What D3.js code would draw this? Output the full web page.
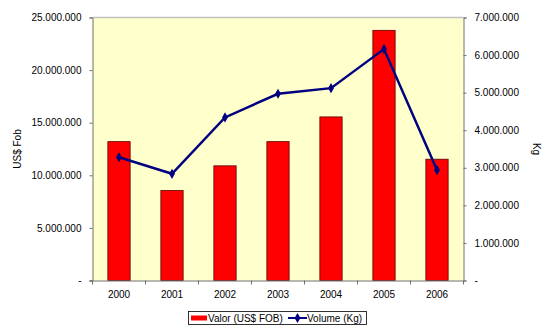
<!DOCTYPE html>
<html><head><meta charset="utf-8">
<script src="https://cdn.jsdelivr.net/npm/d3@7"></script>
<style>body{margin:0;background:#fff}svg{display:block;font-family:"Liberation Sans",Arial,sans-serif}</style>
</head><body><svg id="c" width="550" height="330"></svg>
<script>
const years = ["2000","2001","2002","2003","2004","2005","2006"];
const valor = [13200000, 8550000, 10900000, 13200000, 15550000, 23780000, 11530000];
const volume = [3280000, 2840000, 4340000, 4970000, 5120000, 6160000, 2940000];
const leftTicks = [0, 5000000, 10000000, 15000000, 20000000, 25000000];
const rightTicks = [0, 1000000, 2000000, 3000000, 4000000, 5000000, 6000000, 7000000];
const seriesNames = ["Valor (US$ FOB)", "Volume (Kg)"];
const axisTitles = ["US$ Fob", "Kg"];

const svg = d3.select("#c");
const L = 92.5, R = 463.5, T = 17.5, B = 280.5;
const fmtL = d3.formatLocale({decimal: ",", thousands: ".", grouping: [3], currency: ["", ""]});
const f = v => v === 0 ? "-" : fmtL.format(",")(v);

const x = d3.scaleBand().domain(years).range([L, R]).paddingInner(0.58).paddingOuter(0.29);
const xb = d3.scaleBand().domain(years).range([L, R]);
const yL = d3.scaleLinear().domain([0, 25000000]).range([B, T]);
const yR = d3.scaleLinear().domain([0, 7000000]).range([B, T]);

svg.append("rect").attr("x", L).attr("y", T).attr("width", R - L).attr("height", B - T).attr("fill", "#FFFFCC");
svg.append("line").attr("x1", L).attr("x2", R).attr("y1", T).attr("y2", T).attr("stroke", "#c0c0c0").attr("stroke-width", 1.5);

svg.append("g").selectAll("rect").data(years).join("rect")
  .attr("x", d => x(d)).attr("width", x.bandwidth())
  .attr("y", (d, i) => yL(valor[i])).attr("height", (d, i) => B - yL(valor[i]))
  .attr("fill", "#FF0000").attr("stroke", "#5a0000").attr("stroke-width", 0.8);

const axisStyle = g => {
  g.select(".domain").attr("stroke", "#707070");
  g.selectAll(".tick line").attr("stroke", "#707070");
  g.selectAll(".tick text").attr("font-size", 10).attr("fill", "#000").attr("font-family", "Liberation Sans, Arial, sans-serif");
};

svg.append("g").attr("transform", `translate(${L},0)`)
  .call(d3.axisLeft(yL).tickValues(leftTicks).tickFormat(f).tickSizeOuter(0).tickSize(3).tickPadding(8))
  .call(axisStyle);
svg.append("g").attr("transform", `translate(${R},0)`)
  .call(d3.axisRight(yR).tickValues(rightTicks).tickFormat(f).tickSizeOuter(0).tickSize(3).tickPadding(8))
  .call(axisStyle);

const xAxis = svg.append("g").attr("transform", `translate(0,${B})`)
  .call(d3.axisBottom(xb).tickSize(0).tickPadding(10))
  .call(axisStyle);
xAxis.select(".domain").attr("d", `M${L - 3},0.5H${R}`);
// category boundary ticks
svg.append("g").selectAll("line").data(years.concat(["end"])).join("line")
  .attr("x1", (d, i) => L + i * xb.step()).attr("x2", (d, i) => L + i * xb.step())
  .attr("y1", B).attr("y2", B + 4).attr("stroke", "#707070");

const line = d3.line().x((d, i) => xb(years[i]) + xb.bandwidth() / 2).y(d => yR(d));
svg.append("path").datum(volume).attr("d", line).attr("fill", "none")
  .attr("stroke", "#000080").attr("stroke-width", 2.5);
const diamond = d3.symbol().type(d3.symbolDiamond).size(30);
svg.append("g").selectAll("path").data(volume).join("path")
  .attr("d", diamond)
  .attr("transform", (d, i) => `translate(${xb(years[i]) + xb.bandwidth() / 2},${yR(d)})`)
  .attr("fill", "#000080");

svg.append("text").attr("transform", `translate(21,${(T + B) / 2}) rotate(-90)`)
  .attr("text-anchor", "middle").attr("font-size", 10).text(axisTitles[0]);
svg.append("text").attr("transform", `translate(533,${(T + B) / 2}) rotate(90)`)
  .attr("text-anchor", "middle").attr("font-size", 10).text(axisTitles[1]);

// legend
const lg = svg.append("g");
lg.append("rect").attr("x", 188.5).attr("y", 311.5).attr("width", 178).attr("height", 13)
  .attr("fill", "#fff").attr("stroke", "#000").attr("stroke-width", 0.8);
lg.append("rect").attr("x", 191).attr("y", 315.5).attr("width", 16).attr("height", 5).attr("fill", "#FF0000");
lg.append("text").attr("x", 208).attr("y", 321.5).attr("font-size", 10).text(seriesNames[0]);
lg.append("line").attr("x1", 288).attr("x2", 307).attr("y1", 318).attr("y2", 318).attr("stroke", "#000080").attr("stroke-width", 2);
lg.append("path").attr("d", diamond).attr("transform", "translate(297.5,318)").attr("fill", "#000080");
lg.append("text").attr("x", 307).attr("y", 321.5).attr("font-size", 10).text(seriesNames[1]);
</script></body></html>
